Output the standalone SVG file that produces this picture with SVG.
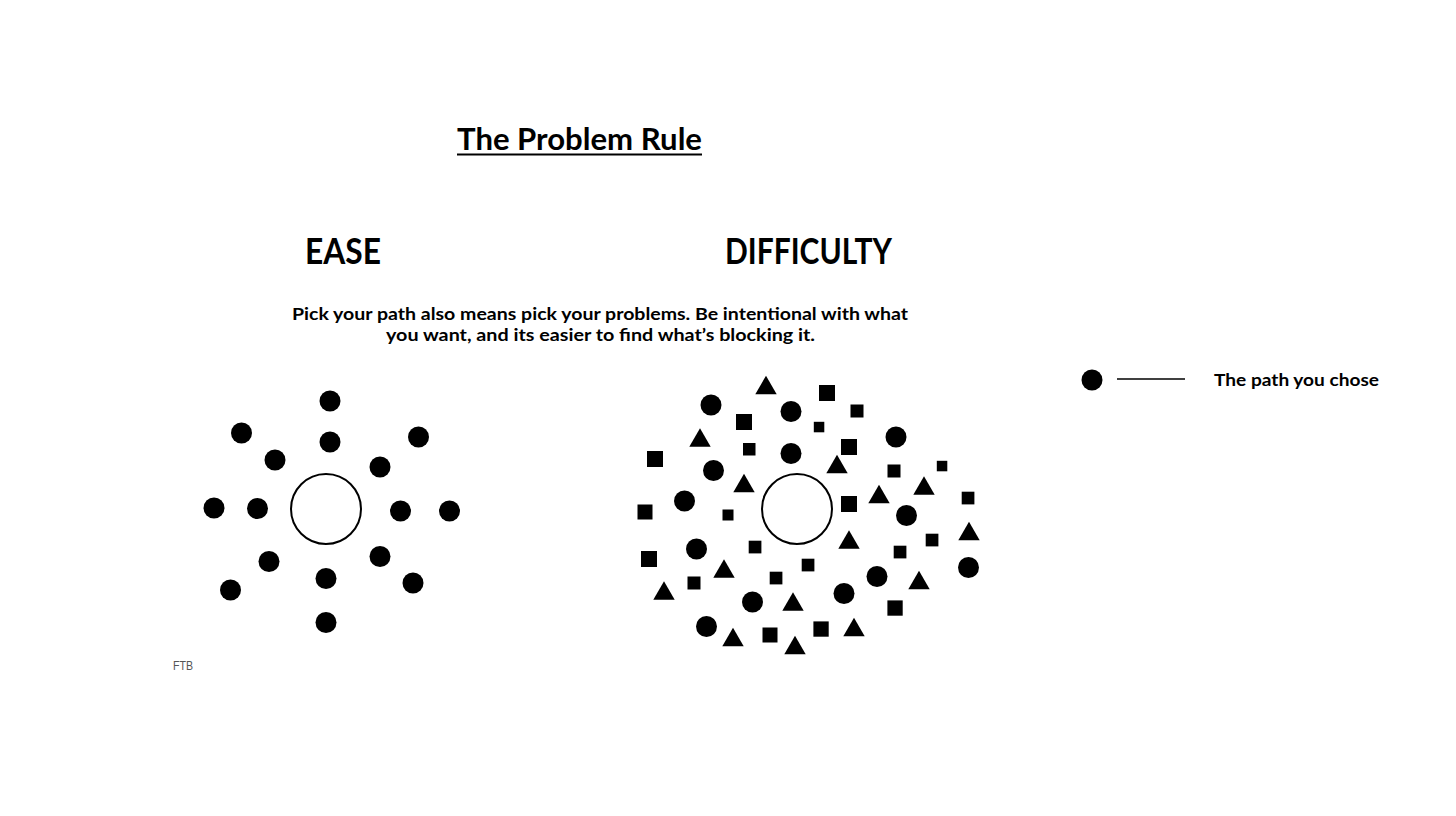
<svg xmlns="http://www.w3.org/2000/svg" xmlns:xlink="http://www.w3.org/1999/xlink" width="1456" height="816" viewBox="0 0 1456 816">
<style>
.t{font-family:"Lato","Noto Sans","Liberation Sans",sans-serif;fill:#000}
.ttl{font-size:30px;font-weight:700}
.hd{font-size:36px;font-weight:700}
.p{font-size:17px;font-weight:700}
.lg{font-size:17px;font-weight:700}
.ftb{font-size:12px;fill:#555;font-family:"Liberation Sans",sans-serif}
.dot{fill:#000}
.sq{fill:#000}
.ring{fill:#fff;stroke:#000;stroke-width:2}
</style>
<defs>
<circle id="d" r="10.5" class="dot"/>
<path id="tri" d="M0,-9.3 L10.7,9.2 L-10.7,9.2 Z" fill="#000"/>
</defs>
<rect width="1456" height="816" fill="#fff"/>
<g id="title">
<text class="t ttl" x="457" y="150" textLength="245" lengthAdjust="spacingAndGlyphs">The Problem Rule</text>
<line x1="457" y1="154.5" x2="702" y2="154.5" stroke="#000" stroke-width="2"/>
</g>
<g id="ease-label"><text class="t hd" x="305" y="264" textLength="76" lengthAdjust="spacingAndGlyphs">EASE</text></g>
<g id="difficulty-label"><text class="t hd" x="725" y="264" textLength="167" lengthAdjust="spacingAndGlyphs">DIFFICULTY</text></g>
<g id="caption">
<text class="t p" x="292" y="320" textLength="616" lengthAdjust="spacingAndGlyphs">Pick your path also means pick your problems. Be intentional with what</text>
<text class="t p" x="386" y="341" textLength="429" lengthAdjust="spacingAndGlyphs">you want, and its easier to find what’s blocking it.</text>
</g>
<g id="legend">
<use xlink:href="#d" x="1092" y="380"/>
<line x1="1117" y1="379" x2="1185" y2="379" stroke="#000" stroke-width="1.5"/>
<text class="t lg" x="1214" y="386" textLength="165" lengthAdjust="spacingAndGlyphs">The path you chose</text>
</g>
<g id="ftb"><text class="ftb" x="173" y="670" textLength="20" lengthAdjust="spacingAndGlyphs">FTB</text></g>
<g id="ease-cluster">
<circle class="ring" cx="326" cy="509" r="35"/>
<use xlink:href="#d" x="330" y="401"/>
<use xlink:href="#d" x="241.5" y="433"/>
<use xlink:href="#d" x="330" y="442"/>
<use xlink:href="#d" x="418.5" y="437"/>
<use xlink:href="#d" x="275" y="460"/>
<use xlink:href="#d" x="380" y="467"/>
<use xlink:href="#d" x="214" y="508"/>
<use xlink:href="#d" x="257.5" y="508.5"/>
<use xlink:href="#d" x="400.5" y="511"/>
<use xlink:href="#d" x="449.5" y="511"/>
<use xlink:href="#d" x="269" y="561.5"/>
<use xlink:href="#d" x="380" y="556.5"/>
<use xlink:href="#d" x="326" y="578.5"/>
<use xlink:href="#d" x="230.5" y="590"/>
<use xlink:href="#d" x="413" y="583"/>
<use xlink:href="#d" x="326" y="622.5"/>
</g>
<g id="difficulty-cluster">
<circle class="ring" cx="797" cy="509" r="35"/>
<g id="circles">
<use xlink:href="#d" x="711" y="405"/>
<use xlink:href="#d" x="791" y="411.5"/>
<use xlink:href="#d" x="896" y="437"/>
<use xlink:href="#d" x="713.5" y="470.5"/>
<use xlink:href="#d" x="791" y="453.5"/>
<use xlink:href="#d" x="684.5" y="501"/>
<use xlink:href="#d" x="906.5" y="515.5"/>
<use xlink:href="#d" x="696.5" y="549"/>
<use xlink:href="#d" x="968.5" y="567.5"/>
<use xlink:href="#d" x="877" y="576.5"/>
<use xlink:href="#d" x="844" y="593.5"/>
<use xlink:href="#d" x="752.5" y="602"/>
<use xlink:href="#d" x="706.5" y="626.5"/>
</g>
<g id="triangles">
<use xlink:href="#tri" x="766" y="385"/>
<use xlink:href="#tri" x="700" y="437.5"/>
<use xlink:href="#tri" x="744" y="483"/>
<use xlink:href="#tri" x="837" y="464"/>
<use xlink:href="#tri" x="879" y="494"/>
<use xlink:href="#tri" x="924" y="485.5"/>
<use xlink:href="#tri" x="969" y="531"/>
<use xlink:href="#tri" x="849" y="539.5"/>
<use xlink:href="#tri" x="724" y="568.5"/>
<use xlink:href="#tri" x="664" y="590.5"/>
<use xlink:href="#tri" x="793" y="601.5"/>
<use xlink:href="#tri" x="919" y="580"/>
<use xlink:href="#tri" x="854" y="627"/>
<use xlink:href="#tri" x="733" y="637"/>
<use xlink:href="#tri" x="795" y="645"/>
</g>
<g id="squares">
<rect class="sq" x="736" y="414" width="16" height="16"/>
<rect class="sq" x="647" y="451" width="16" height="16"/>
<rect class="sq" x="743" y="443" width="12.5" height="12.5"/>
<rect class="sq" x="637.5" y="504.5" width="15" height="15"/>
<rect class="sq" x="722.5" y="509.5" width="11" height="11"/>
<rect class="sq" x="819" y="385" width="16" height="16"/>
<rect class="sq" x="850.5" y="404.5" width="13" height="13"/>
<rect class="sq" x="813.8" y="421.8" width="10.5" height="10.5"/>
<rect class="sq" x="841" y="439" width="16" height="16"/>
<rect class="sq" x="887.5" y="464.5" width="13" height="13"/>
<rect class="sq" x="936.8" y="460.8" width="10.5" height="10.5"/>
<rect class="sq" x="841" y="496" width="16" height="16"/>
<rect class="sq" x="961.7" y="491.7" width="12.7" height="12.7"/>
<rect class="sq" x="641" y="551" width="16" height="16"/>
<rect class="sq" x="687.5" y="576.5" width="13" height="13"/>
<rect class="sq" x="748.7" y="540.7" width="12.7" height="12.7"/>
<rect class="sq" x="769.7" y="571.7" width="12.7" height="12.7"/>
<rect class="sq" x="801.7" y="558.7" width="12.7" height="12.7"/>
<rect class="sq" x="762.5" y="627.5" width="15" height="15"/>
<rect class="sq" x="925.7" y="533.7" width="12.7" height="12.7"/>
<rect class="sq" x="893.7" y="545.7" width="12.7" height="12.7"/>
<rect class="sq" x="887.4" y="600.4" width="15.3" height="15.3"/>
<rect class="sq" x="813.4" y="621.4" width="15.3" height="15.3"/>
</g>
</g>
<g id="connectors"/>
</svg>
